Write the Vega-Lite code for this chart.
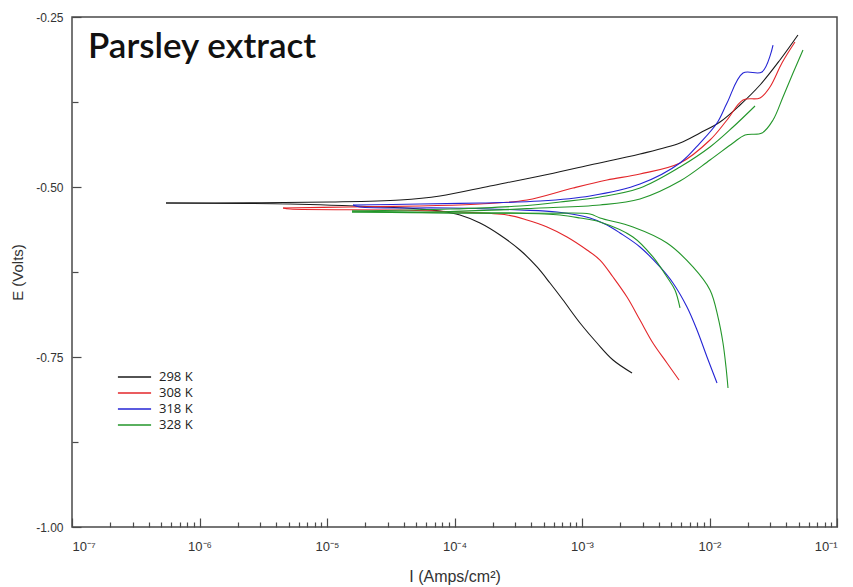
{
  "$schema": "https://vega.github.io/schema/vega-lite/v6.json",
  "autosize": "none",
  "width": 765,
  "height": 510,
  "padding": {"left": 72, "top": 17, "right": 16, "bottom": 60},
  "background": "white",
  "config": {
    "view": {"stroke": "#4a4a4a", "strokeWidth": 1.5},
    "axis": {"grid": false, "domain": false, "labelFont": "Liberation Sans", "titleFont": "Liberation Sans", "labelColor": "#333", "titleColor": "#333", "tickColor": "#4a4a4a", "tickWidth": 1.2, "labelFontSize": 12, "titleFontWeight": "normal"}
  },
  "title": {"text": "Parsley extract", "orient": "top", "anchor": "start", "frame": "group", "offset": -40, "dx": 16, "dy": 42, "baseline": "alphabetic", "font": "Lato", "fontSize": 35, "fontWeight": 600, "color": "#111"},
  "data": {"values": [
    {"T":"298 K","run":"a","br":"c","I":5.46e-7,"E":-0.5235},
    {"T":"298 K","run":"a","br":"c","I":5.13e-6,"E":-0.525},
    {"T":"298 K","run":"a","br":"c","I":2.6e-5,"E":-0.5294},
    {"T":"298 K","run":"a","br":"c","I":5.36e-5,"E":-0.5324},
    {"T":"298 K","run":"a","br":"c","I":7.69e-5,"E":-0.5353},
    {"T":"298 K","run":"a","br":"c","I":1.104e-4,"E":-0.5412},
    {"T":"298 K","run":"a","br":"c","I":1.585e-4,"E":-0.553},
    {"T":"298 K","run":"a","br":"c","I":2.275e-4,"E":-0.5706},
    {"T":"298 K","run":"a","br":"c","I":3.26e-4,"E":-0.5926},
    {"T":"298 K","run":"a","br":"c","I":4.44e-4,"E":-0.6176},
    {"T":"298 K","run":"a","br":"c","I":5.61e-4,"E":-0.6412},
    {"T":"298 K","run":"a","br":"c","I":7.1e-4,"E":-0.6662},
    {"T":"298 K","run":"a","br":"c","I":9.65e-4,"E":-0.7},
    {"T":"298 K","run":"a","br":"c","I":1.311e-3,"E":-0.7294},
    {"T":"298 K","run":"a","br":"c","I":1.751e-3,"E":-0.7544},
    {"T":"298 K","run":"a","br":"c","I":2.468e-3,"E":-0.7735},
    {"T":"298 K","run":"a","br":"a","I":5.46e-7,"E":-0.5235},
    {"T":"298 K","run":"a","br":"a","I":2.49e-6,"E":-0.5233},
    {"T":"298 K","run":"a","br":"a","I":1.056e-5,"E":-0.5221},
    {"T":"298 K","run":"a","br":"a","I":3.74e-5,"E":-0.5191},
    {"T":"298 K","run":"a","br":"a","I":7.69e-5,"E":-0.5132},
    {"T":"298 K","run":"a","br":"a","I":1.9e-4,"E":-0.4985},
    {"T":"298 K","run":"a","br":"a","I":4.69e-4,"E":-0.4838},
    {"T":"298 K","run":"a","br":"a","I":1.155e-3,"E":-0.4676},
    {"T":"298 K","run":"a","br":"a","I":2.85e-3,"E":-0.4515},
    {"T":"298 K","run":"a","br":"a","I":5.87e-3,"E":-0.4353},
    {"T":"298 K","run":"a","br":"a","I":8.42e-3,"E":-0.4206},
    {"T":"298 K","run":"a","br":"a","I":1.209e-2,"E":-0.4044},
    {"T":"298 K","run":"a","br":"a","I":1.735e-2,"E":-0.3794},
    {"T":"298 K","run":"a","br":"a","I":2.49e-2,"E":-0.35},
    {"T":"298 K","run":"a","br":"a","I":3.57e-2,"E":-0.3132},
    {"T":"298 K","run":"a","br":"a","I":4.94e-2,"E":-0.2765},
    {"T":"308 K","run":"a","br":"c","I":4.52e-6,"E":-0.5309},
    {"T":"308 K","run":"a","br":"c","I":5.13e-6,"E":-0.5324},
    {"T":"308 K","run":"a","br":"c","I":3.74e-5,"E":-0.5338},
    {"T":"308 K","run":"a","br":"c","I":1.104e-4,"E":-0.5368},
    {"T":"308 K","run":"a","br":"c","I":2.58e-4,"E":-0.5412},
    {"T":"308 K","run":"a","br":"c","I":3.7e-4,"E":-0.5485},
    {"T":"308 K","run":"a","br":"c","I":5.32e-4,"E":-0.5588},
    {"T":"308 K","run":"a","br":"c","I":7.63e-4,"E":-0.5735},
    {"T":"308 K","run":"a","br":"c","I":1.094e-3,"E":-0.5926},
    {"T":"308 K","run":"a","br":"c","I":1.384e-3,"E":-0.6074},
    {"T":"308 K","run":"a","br":"c","I":1.751e-3,"E":-0.6324},
    {"T":"308 K","run":"a","br":"c","I":2.254e-3,"E":-0.6618},
    {"T":"308 K","run":"a","br":"c","I":2.85e-3,"E":-0.6956},
    {"T":"308 K","run":"a","br":"c","I":3.6e-3,"E":-0.7294},
    {"T":"308 K","run":"a","br":"c","I":4.64e-3,"E":-0.7588},
    {"T":"308 K","run":"a","br":"c","I":5.77e-3,"E":-0.7838},
    {"T":"308 K","run":"a","br":"a","I":4.52e-6,"E":-0.5309},
    {"T":"308 K","run":"a","br":"a","I":1.515e-5,"E":-0.5294},
    {"T":"308 K","run":"a","br":"a","I":5.36e-5,"E":-0.5279},
    {"T":"308 K","run":"a","br":"a","I":1.585e-4,"E":-0.525},
    {"T":"308 K","run":"a","br":"a","I":3.7e-4,"E":-0.5191},
    {"T":"308 K","run":"a","br":"a","I":8.5e-4,"E":-0.5015},
    {"T":"308 K","run":"a","br":"a","I":1.571e-3,"E":-0.4897},
    {"T":"308 K","run":"a","br":"a","I":2.85e-3,"E":-0.4809},
    {"T":"308 K","run":"a","br":"a","I":5.87e-3,"E":-0.4647},
    {"T":"308 K","run":"a","br":"a","I":1.009e-2,"E":-0.4309},
    {"T":"308 K","run":"a","br":"a","I":1.372e-2,"E":-0.4015},
    {"T":"308 K","run":"a","br":"a","I":1.832e-2,"E":-0.3721},
    {"T":"308 K","run":"a","br":"a","I":2.49e-2,"E":-0.369},
    {"T":"308 K","run":"a","br":"a","I":2.98e-2,"E":-0.3529},
    {"T":"308 K","run":"a","br":"a","I":3.7e-2,"E":-0.3176},
    {"T":"308 K","run":"a","br":"a","I":4.68e-2,"E":-0.2868},
    {"T":"318 K","run":"a","br":"c","I":1.6e-5,"E":-0.5265},
    {"T":"318 K","run":"a","br":"c","I":1.815e-5,"E":-0.5294},
    {"T":"318 K","run":"a","br":"c","I":9.22e-5,"E":-0.5309},
    {"T":"318 K","run":"a","br":"c","I":3.26e-4,"E":-0.5338},
    {"T":"318 K","run":"a","br":"c","I":6.37e-4,"E":-0.5368},
    {"T":"318 K","run":"a","br":"c","I":1.155e-3,"E":-0.5456},
    {"T":"318 K","run":"a","br":"c","I":1.571e-3,"E":-0.5559},
    {"T":"318 K","run":"a","br":"c","I":1.986e-3,"E":-0.5676},
    {"T":"318 K","run":"a","br":"c","I":2.85e-3,"E":-0.5882},
    {"T":"318 K","run":"a","br":"c","I":4.09e-3,"E":-0.6176},
    {"T":"318 K","run":"a","br":"c","I":5.17e-3,"E":-0.6412},
    {"T":"318 K","run":"a","br":"c","I":6.66e-3,"E":-0.6765},
    {"T":"318 K","run":"a","br":"c","I":7.98e-3,"E":-0.7103},
    {"T":"318 K","run":"a","br":"c","I":9.56e-3,"E":-0.75},
    {"T":"318 K","run":"a","br":"c","I":1.145e-2,"E":-0.7882},
    {"T":"318 K","run":"a","br":"a","I":1.6e-5,"E":-0.5265},
    {"T":"318 K","run":"a","br":"a","I":5.36e-5,"E":-0.525},
    {"T":"318 K","run":"a","br":"a","I":1.585e-4,"E":-0.5235},
    {"T":"318 K","run":"a","br":"a","I":4.69e-4,"E":-0.5206},
    {"T":"318 K","run":"a","br":"a","I":1.155e-3,"E":-0.5132},
    {"T":"318 K","run":"a","br":"a","I":2.85e-3,"E":-0.4956},
    {"T":"318 K","run":"a","br":"a","I":5.87e-3,"E":-0.4647},
    {"T":"318 K","run":"a","br":"a","I":8.42e-3,"E":-0.4353},
    {"T":"318 K","run":"a","br":"a","I":1.145e-2,"E":-0.4059},
    {"T":"318 K","run":"a","br":"a","I":1.372e-2,"E":-0.3765},
    {"T":"318 K","run":"a","br":"a","I":1.832e-2,"E":-0.3324},
    {"T":"318 K","run":"a","br":"a","I":2.58e-2,"E":-0.3309},
    {"T":"318 K","run":"a","br":"a","I":3.15e-2,"E":-0.2912},
    {"T":"328 K","run":"a","br":"c","I":1.571e-5,"E":-0.5353},
    {"T":"328 K","run":"a","br":"c","I":9.22e-5,"E":-0.5382},
    {"T":"328 K","run":"a","br":"c","I":3.26e-4,"E":-0.5385},
    {"T":"328 K","run":"a","br":"c","I":6.72e-4,"E":-0.5412},
    {"T":"328 K","run":"a","br":"c","I":9.65e-4,"E":-0.5456},
    {"T":"328 K","run":"a","br":"c","I":1.384e-3,"E":-0.5515},
    {"T":"328 K","run":"a","br":"c","I":2.51e-3,"E":-0.5735},
    {"T":"328 K","run":"a","br":"c","I":3.6e-3,"E":-0.6029},
    {"T":"328 K","run":"a","br":"c","I":4.64e-3,"E":-0.6324},
    {"T":"328 K","run":"a","br":"c","I":5.36e-3,"E":-0.6515},
    {"T":"328 K","run":"a","br":"c","I":5.87e-3,"E":-0.6779},
    {"T":"328 K","run":"a","br":"a","I":1.571e-5,"E":-0.5353},
    {"T":"328 K","run":"a","br":"a","I":9.22e-5,"E":-0.5324},
    {"T":"328 K","run":"a","br":"a","I":3.26e-4,"E":-0.5279},
    {"T":"328 K","run":"a","br":"a","I":6.72e-4,"E":-0.5221},
    {"T":"328 K","run":"a","br":"a","I":1.384e-3,"E":-0.5147},
    {"T":"328 K","run":"a","br":"a","I":2.85e-3,"E":-0.5015},
    {"T":"328 K","run":"a","br":"a","I":5.87e-3,"E":-0.4706},
    {"T":"328 K","run":"a","br":"a","I":1.009e-2,"E":-0.4412},
    {"T":"328 K","run":"a","br":"a","I":1.529e-2,"E":-0.4118},
    {"T":"328 K","run":"a","br":"a","I":2.275e-2,"E":-0.3809},
    {"T":"328 K","run":"b","br":"c","I":1.571e-5,"E":-0.5368},
    {"T":"328 K","run":"b","br":"c","I":9.22e-5,"E":-0.5382},
    {"T":"328 K","run":"b","br":"c","I":5.32e-4,"E":-0.5386},
    {"T":"328 K","run":"b","br":"c","I":1.155e-3,"E":-0.5397},
    {"T":"328 K","run":"b","br":"c","I":1.384e-3,"E":-0.5456},
    {"T":"328 K","run":"b","br":"c","I":2.51e-3,"E":-0.5588},
    {"T":"328 K","run":"b","br":"c","I":4.64e-3,"E":-0.5824},
    {"T":"328 K","run":"b","br":"c","I":7.42e-3,"E":-0.6176},
    {"T":"328 K","run":"b","br":"c","I":1.009e-2,"E":-0.6515},
    {"T":"328 K","run":"b","br":"c","I":1.166e-2,"E":-0.6912},
    {"T":"328 K","run":"b","br":"c","I":1.276e-2,"E":-0.7294},
    {"T":"328 K","run":"b","br":"c","I":1.347e-2,"E":-0.7647},
    {"T":"328 K","run":"b","br":"c","I":1.397e-2,"E":-0.7956},
    {"T":"328 K","run":"b","br":"a","I":1.571e-5,"E":-0.5368},
    {"T":"328 K","run":"b","br":"a","I":9.22e-5,"E":-0.536},
    {"T":"328 K","run":"b","br":"a","I":4.69e-4,"E":-0.5309},
    {"T":"328 K","run":"b","br":"a","I":1.384e-3,"E":-0.5265},
    {"T":"328 K","run":"b","br":"a","I":2.85e-3,"E":-0.5176},
    {"T":"328 K","run":"b","br":"a","I":5.87e-3,"E":-0.4912},
    {"T":"328 K","run":"b","br":"a","I":1.009e-2,"E":-0.4603},
    {"T":"328 K","run":"b","br":"a","I":1.529e-2,"E":-0.4353},
    {"T":"328 K","run":"b","br":"a","I":1.899e-2,"E":-0.4235},
    {"T":"328 K","run":"b","br":"a","I":2.58e-2,"E":-0.4206},
    {"T":"328 K","run":"b","br":"a","I":3.15e-2,"E":-0.4015},
    {"T":"328 K","run":"b","br":"a","I":3.77e-2,"E":-0.3676},
    {"T":"328 K","run":"b","br":"a","I":4.52e-2,"E":-0.3324},
    {"T":"328 K","run":"b","br":"a","I":5.41e-2,"E":-0.2985}
  ]},
  "resolve": {"axis": {"x": "independent", "y": "independent"}},
  "layer": [
    {
      "mark": {"type": "line", "strokeWidth": 1.1, "interpolate": "catmull-rom"},
      "encoding": {
        "x": {"field": "I", "type": "quantitative", "scale": {"type": "log", "domain": [1e-7, 0.1], "nice": false},
          "axis": {"orient": "bottom", "values": [1e-7, 1e-6, 1e-5, 1e-4, 1e-3, 1e-2, 1e-1], "tickSize": -9, "labelPadding": 22,
            "labelExpr": "['10⁻⁷','10⁻⁶','10⁻⁵','10⁻⁴','10⁻³','10⁻²','10⁻¹'][round(log(datum.value)/LN10)+7]",
            "labelFontSize": 13, "title": "I (Amps/cm²)", "titleFontSize": 16, "titlePadding": 15}},
        "y": {"field": "E", "type": "quantitative", "scale": {"domain": [-1, -0.25], "nice": false, "zero": false},
          "axis": {"orient": "left", "values": [-1, -0.75, -0.5, -0.25], "tickSize": -9, "labelPadding": 18,
            "labelExpr": "replace(format(datum.value, '.2f'), '−', '-')",
            "title": "E (Volts)", "titleFontSize": 15, "titlePadding": 10}},
        "color": {"field": "T", "type": "nominal",
          "scale": {"domain": ["298 K", "308 K", "318 K", "328 K"], "range": ["#1a1a1a", "#e3262a", "#2424d4", "#23962a"]},
          "legend": {"title": null, "orient": "none", "legendX": 45, "legendY": 352, "symbolType": "stroke", "symbolSize": 1100, "symbolStrokeWidth": 1.5, "labelFont": "Open Sans", "labelFontSize": 13, "labelColor": "#222", "rowPadding": 0, "clipHeight": 16, "labelOffset": 7}},
        "detail": [{"field": "run"}, {"field": "br"}],
        "order": {"field": "E", "type": "quantitative"}
      }
    },
    {
      "mark": {"type": "point", "opacity": 0},
      "encoding": {
        "x": {"field": "I", "type": "quantitative", "scale": {"type": "log", "domain": [1e-7, 0.1], "nice": false},
          "axis": {"orient": "bottom", "labels": false, "title": null, "tickSize": -5,
            "values": [2e-7,3e-7,4e-7,5e-7,6e-7,7e-7,8e-7,9e-7,2e-6,3e-6,4e-6,5e-6,6e-6,7e-6,8e-6,9e-6,2e-5,3e-5,4e-5,5e-5,6e-5,7e-5,8e-5,9e-5,2e-4,3e-4,4e-4,5e-4,6e-4,7e-4,8e-4,9e-4,2e-3,3e-3,4e-3,5e-3,6e-3,7e-3,8e-3,9e-3,2e-2,3e-2,4e-2,5e-2,6e-2,7e-2,8e-2,9e-2]}},
        "y": {"field": "E", "type": "quantitative", "scale": {"domain": [-1, -0.25], "nice": false, "zero": false},
          "axis": {"orient": "left", "labels": false, "title": null, "tickSize": -6, "values": [-0.875, -0.625, -0.375]}}
      }
    }
  ]
}
